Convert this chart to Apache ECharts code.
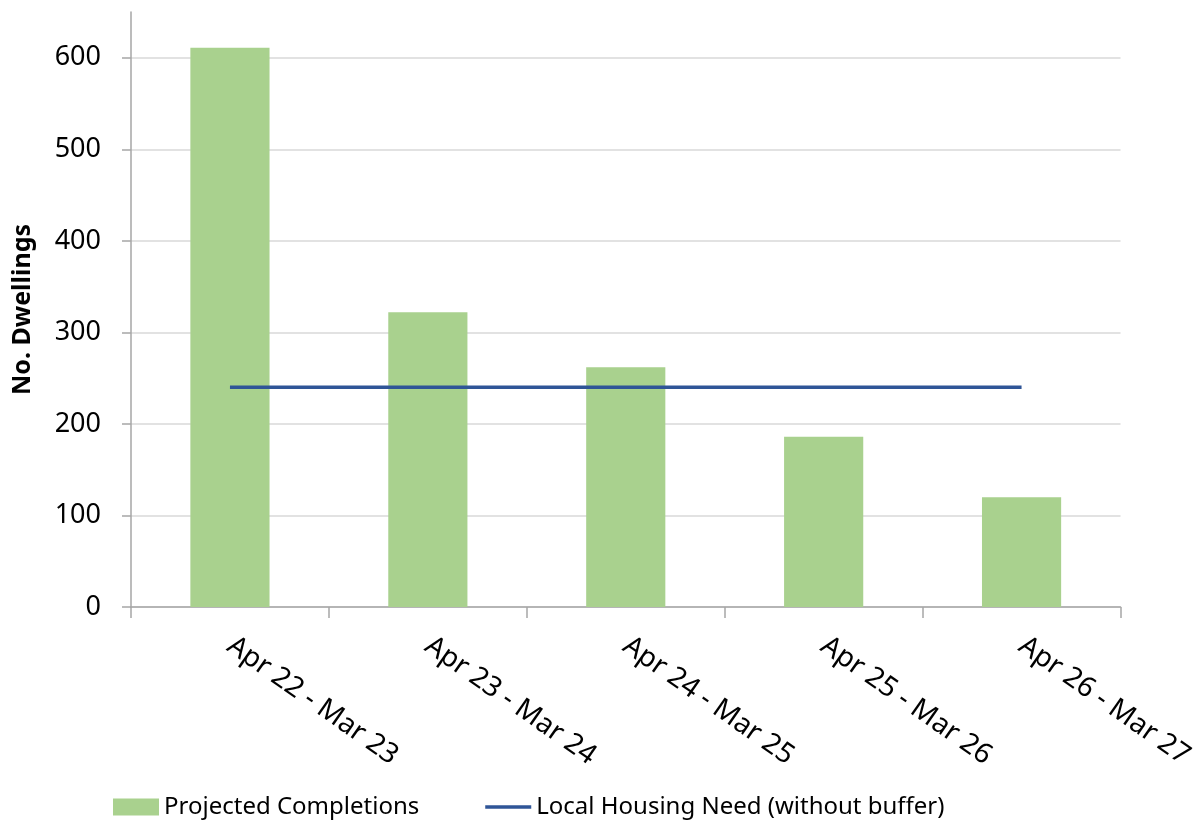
<!DOCTYPE html>
<html>
<head>
<meta charset="utf-8">
<script src="https://cdn.jsdelivr.net/npm/echarts@6/dist/echarts.min.js"></script>
<style>
  html, body { margin: 0; padding: 0; background: #fff; }
  #chart { width: 1197px; height: 820px; }
</style>
</head>
<body>
<div id="chart"></div>
<script>
// periods along the x axis
const periods = ["Apr 22 - Mar 23", "Apr 23 - Mar 24", "Apr 24 - Mar 25", "Apr 25 - Mar 26", "Apr 26 - Mar 27"];
// projected completions (bars)
const completions = [611, 322, 262, 186, 120];
// local housing need, flat line
const housingNeed = [240, 240, 240, 240, 240];
// labelled y ticks
const yTicks = [0, 100, 200, 300, 400, 500, 600];

const axisGrey = "#a6a6a6";
const chart = echarts.init(document.getElementById("chart"));

chart.setOption({
  animation: false,
  textStyle: { fontFamily: "Noto Sans" },
  grid: { left: 131, right: 75, top: 12, bottom: 213, containLabel: false },
  legend: {
    left: 108,
    top: 790,
    itemWidth: 46,
    itemHeight: 17,
    itemGap: 66,
    textStyle: { fontSize: 24, color: "#000" },
    data: [
      { name: "Projected Completions", icon: "rect" },
      // plain line icon, no marker
      { name: "Local Housing Need (without buffer)", icon: "path://M0,0 L46,0 L46,3.5 L0,3.5 Z" }
    ]
  },
  xAxis: {
    type: "category",
    data: periods,
    boundaryGap: true,
    axisLine: { lineStyle: { color: axisGrey, width: 1.5 } },
    axisTick: { show: true, length: 11, lineStyle: { color: axisGrey, width: 1.5 } },
    axisLabel: { rotate: -35, fontSize: 28, color: "#000", margin: 36 }
  },
  yAxis: {
    type: "value",
    min: 0,
    max: 650,
    interval: 50,
    name: "No. Dwellings",
    nameLocation: "middle",
    nameGap: 96,
    nameTextStyle: { fontSize: 25, fontWeight: "bold", color: "#000" },
    axisLine: { show: true, lineStyle: { color: axisGrey, width: 1.5 } },
    axisTick: { show: true, length: 9, customValues: yTicks, lineStyle: { color: axisGrey, width: 1.5 } },
    axisLabel: { customValues: yTicks, fontSize: 27, color: "#000", margin: 30 },
    splitLine: { show: true, lineStyle: { color: "#d9d9d9", width: 1.5 } }
  },
  series: [
    {
      name: "Projected Completions",
      type: "bar",
      data: completions,
      barWidth: "40%",
      itemStyle: { color: "#a9d18e" }
    },
    {
      name: "Local Housing Need (without buffer)",
      type: "line",
      data: housingNeed,
      symbol: "none",
      lineStyle: { color: "#2f5597", width: 3.5 },
      itemStyle: { color: "#2f5597" }
    }
  ]
});
</script>
</body>
</html>
